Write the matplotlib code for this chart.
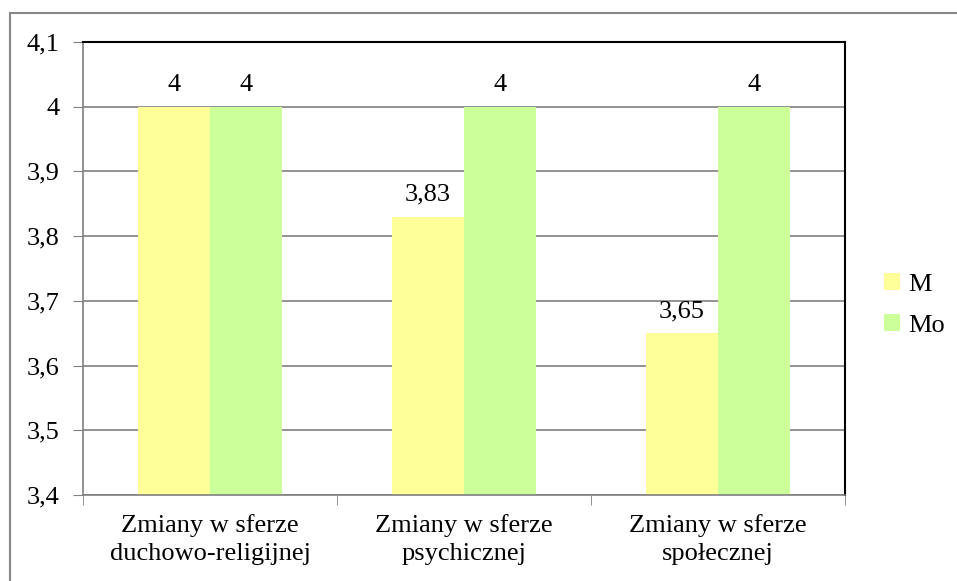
import matplotlib.pyplot as plt
from matplotlib.patches import Rectangle
from matplotlib.ticker import FixedLocator
import numpy as np

plt.rcParams['font.family'] = ['Liberation Serif', 'DejaVu Serif']

categories = ["Zmiany w sferze\nduchowo-religijnej", "Zmiany w sferze\npsychicznej", "Zmiany w sferze\nspołecznej"]
M = [4, 3.83, 3.65]
Mo = [4, 4, 4]
yticks = [3.4, 3.5, 3.6, 3.7, 3.8, 3.9, 4.0, 4.1]

fig = plt.figure(figsize=(9.57, 5.81), dpi=100)
ax = fig.add_axes([83/957, 1 - 495/581, (845-83)/957, (495-42)/581])

x = np.arange(len(categories))
w = 0.285
b1 = ax.bar(x - w/2, [v - 3.4 for v in M], w, bottom=3.4, color="#FFFF99", label="M", zorder=2)
b2 = ax.bar(x + w/2, [v - 3.4 for v in Mo], w, bottom=3.4, color="#CCFF99", label="Mo", zorder=2)

def fmt(v):
    s = f"{v:.2f}".rstrip("0").rstrip(".")
    return s.replace(".", ",")

for bars, vals in [(b1, M), (b2, Mo)]:
    for r, v in zip(bars, vals):
        ax.text(r.get_x() + r.get_width()/2, v + 0.017, fmt(v), ha="center", va="bottom", fontsize=19)

ax.set_xlim(-0.5, 2.5)
ax.set_ylim(3.4, 4.1)
ax.set_yticks(yticks)
ax.set_yticklabels([fmt(t) for t in yticks], fontsize=19)
ax.set_xticks(x)
ax.set_xticklabels(categories, fontsize=19, linespacing=1.35)
ax.tick_params(axis="x", length=0, pad=14)
ax.xaxis.set_minor_locator(FixedLocator([-0.5, 0.5, 1.5, 2.5]))
ax.tick_params(axis="x", which="minor", length=7, color="#808080")
ax.tick_params(axis="y", length=7, color="#808080", pad=10)
ax.grid(axis="y", color="#808080", linewidth=1.2, zorder=0)
ax.set_axisbelow(True)

ax.spines["left"].set_color("#808080")
ax.spines["bottom"].set_color("#808080")
ax.spines["left"].set_linewidth(1.2)
ax.spines["bottom"].set_linewidth(1.2)
ax.spines["top"].set_color("black")
ax.spines["right"].set_color("black")
ax.spines["top"].set_linewidth(1.5)
ax.spines["right"].set_linewidth(1.5)

leg = ax.legend(loc="center left", bbox_to_anchor=(1.02, 0.42), frameon=False,
                fontsize=19, handlelength=0.6, handleheight=0.6, handletextpad=0.3,
                labelspacing=0.7)

fig.patches.append(Rectangle((10/957, -0.1), 1.2, 1 - 13/581 + 0.1, transform=fig.transFigure,
                             fill=False, edgecolor="#888888", linewidth=1.5))

fig.savefig("out.png", dpi=100)
